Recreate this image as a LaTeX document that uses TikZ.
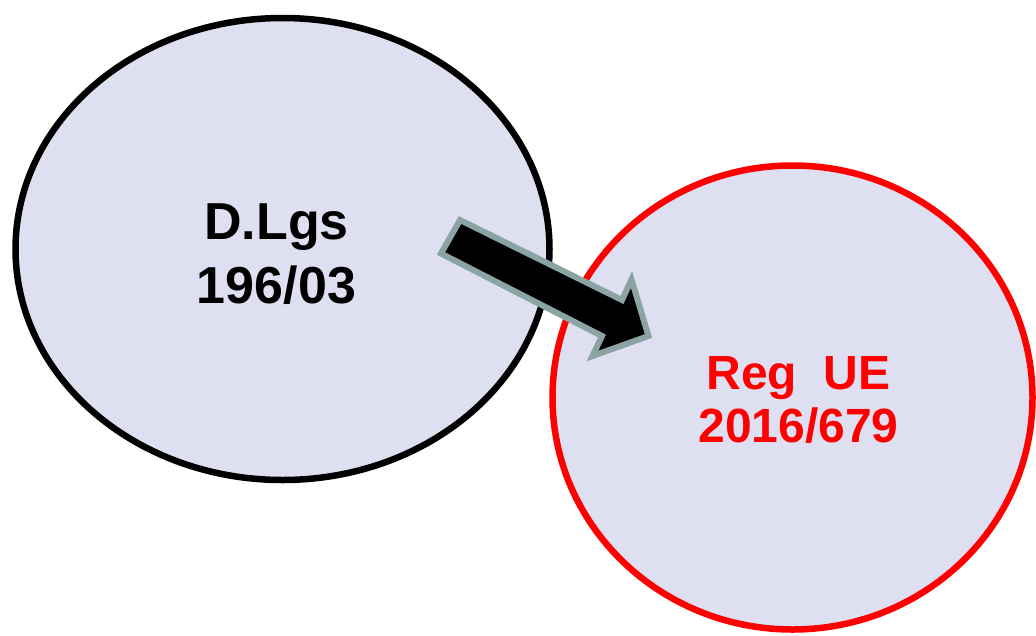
\documentclass[tikz,border=0pt]{standalone}
\usepackage{fontspec}
\setmainfont{Liberation Sans}
\definecolor{bubble}{RGB}{223,223,242}
\definecolor{arrowedge}{RGB}{140,163,163}
\definecolor{regred}{RGB}{255,0,0}
\tikzset{
  bubblestyle/.style={fill=bubble, line width=6.5pt},
  bigarrow/.style={fill=black, draw=arrowedge, line width=6pt, line join=miter},
  lbl/.style={align=center, font=\bfseries, inner sep=0pt}
}
\begin{document}
\begin{tikzpicture}[x=1pt,y=-1pt]
\useasboundingbox (0,0) rectangle (1036,635);
% ellipses
\draw[bubblestyle, draw=black] (282.5,249) ellipse [x radius=267, y radius=231];
\draw[bubblestyle, draw=regred] (792.5,397.5) ellipse [x radius=240, y radius=232];
% labels
\node[lbl, font=\fontsize{52pt}{64pt}\selectfont\bfseries] (dlgs) at (276.5,254) {D.Lgs\\196/03};
\node[lbl, text=regred, font=\fontsize{48pt}{53pt}\selectfont\bfseries] (reg) at (798.5,400) {Reg\ \ UE\\2016/679};
% arrow
\coordinate (a1) at (460,220);
\coordinate (a2) at (622,300);
\coordinate (a3) at (631.5,279.5);
\coordinate (a4) at (648.5,336);
\coordinate (a5) at (592.5,356);
\coordinate (a6) at (602,336);
\coordinate (a7) at (441,253.5);
\draw[bigarrow] (a1) -- (a2) -- (a3) -- (a4) -- (a5) -- (a6) -- (a7) -- cycle;
\end{tikzpicture}
\end{document}
